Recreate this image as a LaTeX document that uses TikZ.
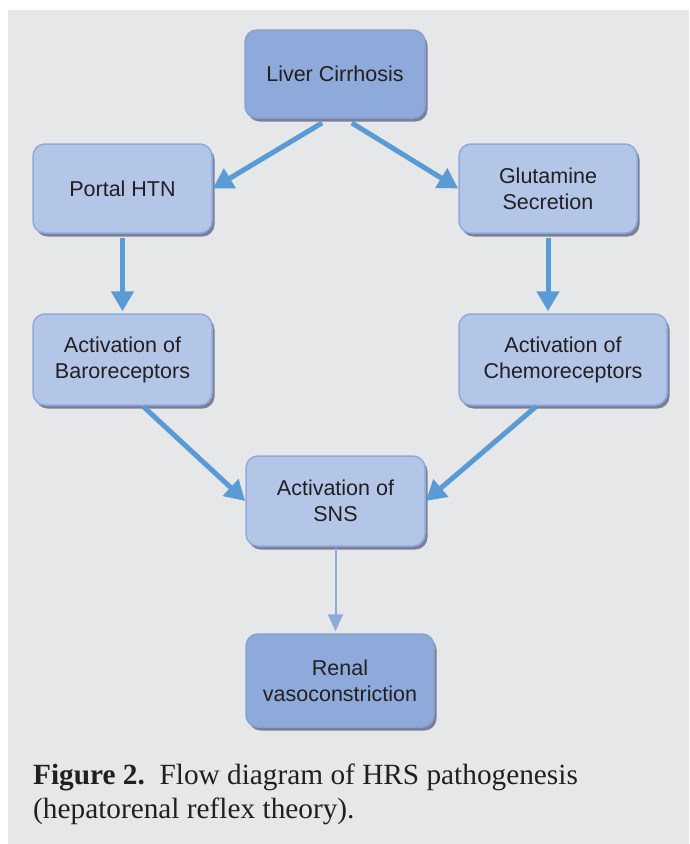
\documentclass[tikz,border=0pt]{standalone}
\usepackage{fontspec}
\setmainfont{Liberation Serif}
\setsansfont{Liberation Sans}
\usetikzlibrary{arrows.meta,shadows}
\definecolor{panel}{HTML}{E6E7E9}
\definecolor{lightbox}{HTML}{B4C6E7}
\definecolor{darkbox}{HTML}{8EAADB}
\definecolor{boxline}{HTML}{8FAADC}
\definecolor{boxshade}{HTML}{7E7E98}
\definecolor{flow}{HTML}{5B9BD5}
\definecolor{thinflow}{HTML}{8EA9DB}
\definecolor{ink}{HTML}{231F20}
\begin{document}
\begin{tikzpicture}[x=1pt,y=-1pt,
  box/.style={draw=boxline, line width=1.5pt, fill=lightbox, rounded corners=12pt,
    align=center, text=ink, font=\sffamily\fontsize{21.5}{26}\selectfont,
    inner sep=0pt, minimum width=179pt, minimum height=89pt,
    drop shadow={shadow xshift=2.5pt, shadow yshift=-3.5pt, fill=boxshade, opacity=1}},
  dark/.style={box, fill=darkbox, draw=darkbox!95!black},
  bigarrow/.style={draw=flow, line width=5pt, -{Triangle[length=20pt,width=22pt]}},
  thinarrow/.style={draw=thinflow, line width=2pt, -{Triangle[length=17pt,width=15pt]}}]
\useasboundingbox (0,0) rectangle (689,844);
\fill[panel] (8,10) rectangle (689,844);
\node[dark] (liver) at (335,74) [minimum width=180pt, minimum height=88pt] {Liver Cirrhosis};
\node[box] (portal) at (122.5,188.5) {Portal HTN};
\node[box] (glut) at (548,188.5) [minimum width=178pt] {Glutamine\\Secretion};
\node[box] (baro) at (122.5,359.5) [minimum height=91pt] {Activation of\\Baroreceptors};
\node[box] (chemo) at (563,359.5) [minimum width=208pt, minimum height=91pt] {Activation of\\Chemoreceptors};
\node[box] (sns) at (335.5,501) [minimum height=90pt] {Activation of\\SNS};
\node[dark] (renal) at (340,680.5) [minimum width=188pt, minimum height=93pt] {Renal\\vasoconstriction};
\draw[bigarrow, shorten <=8pt] ([xshift=-6pt]liver.south) -- (portal.east);
\draw[bigarrow, shorten <=8pt] ([xshift=10pt]liver.south) -- (glut.west);
\draw[bigarrow, shorten <=4pt, shorten >=2pt] (portal.south) -- (baro.north);
\draw[bigarrow, shorten <=4pt, shorten >=2pt] (glut.south) -- (chemo.north -| glut.south);
\draw[bigarrow, shorten <=1pt] ([xshift=20pt]baro.south) -- (sns.west);
\draw[bigarrow, shorten <=1pt] ([xshift=-26pt]chemo.south) -- (sns.east);
\draw[thinarrow, shorten <=1pt, shorten >=2pt] (sns.south) -- (sns.south |- renal.north);
\node[anchor=base west, align=left, inner sep=0pt, text=ink,
  font=\rmfamily\fontsize{29.3}{34}\selectfont] (caption) at (33,818)
  {\textbf{Figure 2.}\ \ Flow diagram of HRS pathogenesis\\(hepatorenal reflex theory).};
\end{tikzpicture}
\end{document}
